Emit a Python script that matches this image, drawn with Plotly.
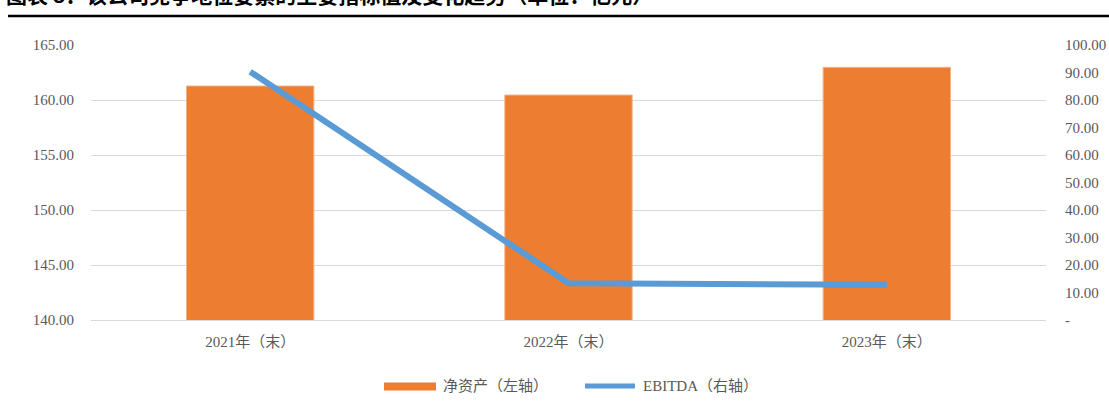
import plotly.graph_objects as go

categories = ["2021年（末）", "2022年（末）", "2023年（末）"]
net_assets = [161.27, 160.45, 162.97]
ebitda = [90.3, 13.4, 12.8]
left_ticks = [140, 145, 150, 155, 160, 165]
left_ticktext = ["140.00", "145.00", "150.00", "155.00", "160.00", "165.00"]
right_ticks = [0, 10, 20, 30, 40, 50, 60, 70, 80, 90, 100]
right_ticktext = ["-", "10.00", "20.00", "30.00", "40.00", "50.00", "60.00", "70.00", "80.00", "90.00", "100.00"]
legend_names = ["净资产（左轴）", "EBITDA（右轴）"]
title_text = "图表 8：该公司竞争地位要素的主要指标值及变化趋势（单位：亿元）"

ORANGE = "#ED7D31"
BLUE = "#5B9BD5"
GRAY = "#595959"
FONT = "'Liberation Serif', 'Times New Roman', 'Noto Sans CJK SC', serif"

W, H = 1109, 412
ML, MR, MT, MB = 91, 63, 45, 92
PW, PH = W - ML - MR, H - MT - MB


def px2x(px):
    return (px - ML) / PW


def px2y(py):
    return 1 - (py - MT) / PH


fig = go.Figure()
fig.add_trace(go.Bar(
    x=categories, y=net_assets, name=legend_names[0],
    marker=dict(color=ORANGE, line=dict(color="#F4B183", width=1)),
    width=0.4, yaxis="y", showlegend=False,
))
fig.add_trace(go.Scatter(
    x=categories, y=ebitda, name=legend_names[1], mode="lines",
    line=dict(color=BLUE, width=6), yaxis="y2", showlegend=False,
))

fig.update_layout(
    width=W, height=H,
    margin=dict(l=ML, r=MR, t=MT, b=MB, autoexpand=False),
    paper_bgcolor="white", plot_bgcolor="white",
    font=dict(family=FONT, size=15, color=GRAY),
    xaxis=dict(
        showgrid=False, showline=True, linecolor="#D9D9D9", linewidth=1,
        tickfont=dict(family=FONT, size=15, color=GRAY), ticks="",
        ticklabelstandoff=8, automargin=False,
    ),
    yaxis=dict(
        range=[140, 165], tickvals=left_ticks, ticktext=left_ticktext,
        showgrid=True, gridcolor="#D9D9D9", gridwidth=1, zeroline=False,
        showline=False, ticks="", ticklabelstandoff=16, automargin=False,
        tickfont=dict(family=FONT, size=15, color=GRAY),
    ),
    yaxis2=dict(
        range=[0, 100], tickvals=right_ticks, ticktext=right_ticktext,
        overlaying="y", side="right", showgrid=False, zeroline=False,
        showline=False, ticks="", ticklabelstandoff=18, automargin=False,
        tickfont=dict(family=FONT, size=15, color=GRAY),
    ),
    bargap=0.6,
)

# Custom legend
fig.add_shape(type="rect", xref="paper", yref="paper",
              x0=px2x(384), x1=px2x(436), y0=px2y(390.5), y1=px2y(382.5),
              fillcolor=ORANGE, line=dict(width=0))
fig.add_annotation(xref="paper", yref="paper", x=px2x(441), y=px2y(386),
                   text=legend_names[0], showarrow=False, xanchor="left", yanchor="middle",
                   font=dict(family=FONT, size=15, color=GRAY))
fig.add_shape(type="line", xref="paper", yref="paper",
              x0=px2x(585), x1=px2x(635), y0=px2y(386), y1=px2y(386),
              line=dict(color=BLUE, width=5))
fig.add_annotation(xref="paper", yref="paper", x=px2x(641), y=px2y(386),
                   text=legend_names[1], showarrow=False, xanchor="left", yanchor="middle",
                   font=dict(family=FONT, size=15, color=GRAY))

# Clipped title and rule at top
fig.add_annotation(xref="paper", yref="paper", x=px2x(4), y=px2y(-6),
                   text="<b>" + title_text + "</b>", showarrow=False,
                   xanchor="left", yanchor="middle",
                   font=dict(family="'Noto Sans CJK SC', sans-serif", size=21, color="black"))
fig.add_shape(type="line", xref="paper", yref="paper",
              x0=px2x(8), x1=px2x(1109), y0=px2y(16), y1=px2y(16),
              line=dict(color="black", width=2.5))

fig.write_html("out.html", config={"displayModeBar": False},
               post_script="document.body.style.margin='0';document.body.style.padding='0';")
